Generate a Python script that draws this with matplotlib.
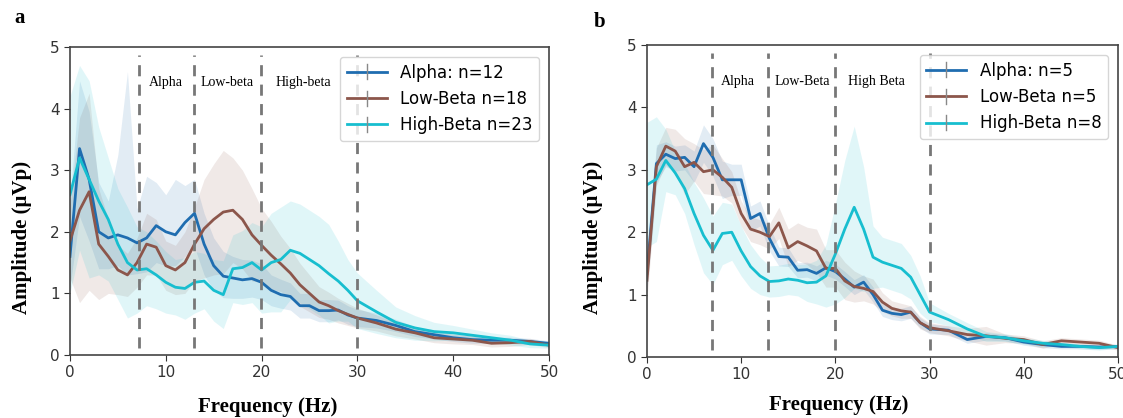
import matplotlib
matplotlib.use('Agg')
import matplotlib.pyplot as plt
from matplotlib.lines import Line2D
from matplotlib.legend_handler import HandlerLine2D

# frequency grid (Hz)
freq = list(range(0, 31)) + list(range(32, 51, 2))

# ---- panel a: mean amplitude ----
a_alpha = [1.6, 3.35, 2.85, 2.0, 1.9, 1.95, 1.9, 1.82, 1.9, 2.1, 2.0, 1.95, 2.15, 2.3, 1.8, 1.45, 1.28, 1.25, 1.22, 1.24,
           1.18, 1.05, 0.98, 0.95, 0.8, 0.8, 0.72, 0.72, 0.73, 0.65, 0.6,
           0.56, 0.48, 0.38, 0.33, 0.28, 0.25, 0.24, 0.24, 0.22, 0.19]
a_low = [1.85, 2.35, 2.65, 1.8, 1.6, 1.38, 1.3, 1.5, 1.8, 1.75, 1.45, 1.38, 1.5, 1.8, 2.05, 2.2, 2.32, 2.35, 2.2, 1.95,
         1.78, 1.62, 1.48, 1.33, 1.14, 1.0, 0.86, 0.8, 0.72, 0.66, 0.6,
         0.52, 0.42, 0.36, 0.28, 0.26, 0.24, 0.19, 0.2, 0.22, 0.16]
a_high = [2.6, 3.2, 2.85, 2.5, 2.2, 1.8, 1.5, 1.38, 1.4, 1.3, 1.18, 1.1, 1.08, 1.18, 1.2, 1.05, 0.98, 1.4, 1.42, 1.5,
          1.38, 1.5, 1.55, 1.7, 1.65, 1.55, 1.45, 1.32, 1.2, 1.05, 0.88,
          0.7, 0.53, 0.44, 0.38, 0.36, 0.32, 0.28, 0.24, 0.18, 0.16]
# spread above the mean (shaded band)
a_alpha_sd = [0.9, 1.1, 1.1, 0.8, 0.6, 1.3, 2.7, 0.55, 1.0, 0.7, 0.6, 0.9, 0.6, 0.55, 0.5, 0.45, 0.4, 0.35, 0.33, 0.3,
              0.3, 0.25, 0.25, 0.22, 0.2, 0.2, 0.18, 0.18, 0.16, 0.15, 0.14,
              0.12, 0.1, 0.08, 0.07, 0.06, 0.06, 0.05, 0.05, 0.05, 0.04]
# spread below the mean, alpha band is lopsided
a_alpha_sd_lo = [0.5, 1.1, 1.0, 0.6, 0.5, 0.5, 0.6, 0.5, 0.55, 0.6, 0.55, 0.5, 0.55, 0.55, 0.5, 0.4, 0.35, 0.33, 0.3, 0.3,
                 0.28, 0.25, 0.22, 0.22, 0.2, 0.2, 0.18, 0.18, 0.16, 0.15, 0.14,
                 0.12, 0.1, 0.08, 0.07, 0.06, 0.06, 0.05, 0.05, 0.05, 0.04]
a_low_sd = [0.6, 1.5, 1.6, 0.9, 0.6, 0.4, 0.35, 0.4, 0.5, 0.45, 0.4, 0.4, 0.5, 0.6, 0.8, 0.9, 1.0, 0.85, 0.8, 0.75,
            0.6, 0.55, 0.45, 0.4, 0.35, 0.3, 0.25, 0.22, 0.2, 0.18, 0.16,
            0.13, 0.11, 0.1, 0.08, 0.08, 0.07, 0.06, 0.06, 0.05, 0.04]
a_high_sd = [1.6, 1.5, 1.6, 1.2, 1.0, 0.9, 0.9, 0.7, 0.6, 0.55, 0.5, 0.45, 0.5, 0.5, 0.45, 0.5, 0.55, 0.55, 0.6, 0.65,
             0.7, 0.8, 0.85, 0.8, 0.8, 0.8, 0.8, 0.8, 0.65, 0.5, 0.45,
             0.35, 0.25, 0.2, 0.15, 0.12, 0.1, 0.08, 0.08, 0.06, 0.05]

# ---- panel b ----
b_alpha = [1.34, 3.1, 3.25, 3.18, 3.2, 3.05, 3.42, 3.2, 2.84, 2.84, 2.84, 2.22, 2.3, 1.9, 1.61, 1.6, 1.39, 1.4, 1.34, 1.43,
           1.37, 1.25, 1.12, 1.2, 1.0, 0.75, 0.7, 0.68, 0.72, 0.55, 0.45,
           0.43, 0.28, 0.33, 0.31, 0.24, 0.2, 0.17, 0.17, 0.16, 0.17]
b_low = [1.23, 3.05, 3.38, 3.3, 3.05, 3.12, 2.97, 3.0, 2.88, 2.72, 2.3, 2.05, 2.0, 1.93, 2.15, 1.75, 1.85, 1.78, 1.7, 1.42,
         1.42, 1.22, 1.13, 1.1, 1.05, 0.88, 0.78, 0.74, 0.72, 0.55, 0.47,
         0.42, 0.36, 0.34, 0.3, 0.28, 0.2, 0.26, 0.24, 0.22, 0.15]
b_high = [2.76, 2.85, 3.15, 2.95, 2.7, 2.3, 1.95, 1.71, 1.98, 2.0, 1.7, 1.45, 1.3, 1.21, 1.22, 1.25, 1.23, 1.19, 1.2, 1.3,
          1.65, 2.05, 2.4, 2.05, 1.6, 1.52, 1.47, 1.42, 1.28, 1.0, 0.72,
          0.6, 0.45, 0.33, 0.31, 0.26, 0.22, 0.2, 0.17, 0.15, 0.17]
b_alpha_sd = [0.3, 0.3, 0.2, 0.2, 0.2, 0.25, 0.3, 0.3, 0.3, 0.25, 0.25, 0.2, 0.2, 0.2, 0.15, 0.15, 0.12, 0.12, 0.12, 0.12,
              0.12, 0.12, 0.12, 0.12, 0.12, 0.1, 0.1, 0.1, 0.1, 0.08, 0.08,
              0.07, 0.06, 0.06, 0.05, 0.05, 0.05, 0.04, 0.04, 0.04, 0.04]
b_low_sd = [0.3, 0.3, 0.3, 0.35, 0.45, 0.3, 0.35, 0.4, 0.3, 0.25, 0.2, 0.2, 0.2, 0.2, 0.25, 0.3, 0.3, 0.3, 0.35, 0.3,
            0.3, 0.3, 0.25, 0.2, 0.2, 0.15, 0.12, 0.12, 0.1, 0.1, 0.08,
            0.08, 0.1, 0.15, 0.07, 0.06, 0.06, 0.05, 0.05, 0.05, 0.04]
b_high_sd = [1.0, 1.0, 0.5, 0.35, 0.4, 0.5, 0.6, 0.55, 0.5, 0.45, 0.4, 0.35, 0.3, 0.25, 0.25, 0.25, 0.25, 0.3, 0.35, 0.5,
             0.8, 1.1, 1.3, 1.0, 0.5, 0.4, 0.4, 0.4, 0.35, 0.3, 0.15,
             0.1, 0.1, 0.08, 0.06, 0.05, 0.05, 0.04, 0.04, 0.04, 0.03]

a_bounds = [7.2, 12.9, 19.9, 30]
b_bounds = [6.9, 12.8, 20, 30.1]
a_bands = ['Alpha', 'Low-beta', 'High-beta']
b_bands = ['Alpha', 'Low-Beta', 'High Beta']
a_band_x = [10, 16.4, 24.4]
b_band_x = [9.7, 16.5, 24.4]
a_names = ['Alpha: n=12', 'Low-Beta n=18', 'High-Beta n=23']
b_names = ['Alpha: n=5', 'Low-Beta n=5', 'High-Beta n=8']

colors = ['#1f6db0', '#8c564b', '#17becf']
serif = ['Liberation Serif', 'DejaVu Serif']


class HandlerTick(HandlerLine2D):
    # legend handle that looks like an errorbar entry
    def create_artists(self, legend, orig_handle, xdescent, ydescent, width, height, fontsize, trans):
        arts = super().create_artists(legend, orig_handle, xdescent, ydescent, width, height, fontsize, trans)
        xm = width / 2 - xdescent
        tick = Line2D([xm, xm], [-ydescent - 0.15 * height, height * 1.15 - ydescent],
                      color='#888888', lw=1)
        tick.set_transform(trans)
        return arts + [tick]


def draw(ax, means, sds_up, sds_lo, names, bounds, bands, band_x):
    for m, su, sl, c, n in zip(means, sds_up, sds_lo, colors, names):
        lo = [a - b for a, b in zip(m, sl)]
        hi = [a + b for a, b in zip(m, su)]
        ax.fill_between(freq, lo, hi, color=c, alpha=0.13, lw=0)
        ax.plot(freq, m, color=c, lw=2, label=n)
    ax.vlines(bounds, 0.12, 4.87, colors='#777777', linestyles=(0, (4, 3)), lw=2)
    for t, x in zip(bands, band_x):
        ax.text(x, 4.42, t, ha='center', va='center', fontsize=10, family=serif)
    ax.set_xlim(0, 50)
    ax.set_ylim(0, 5)
    ax.set_xticks([0, 10, 20, 30, 40, 50])
    ax.set_yticks([0, 1, 2, 3, 4, 5])
    ax.tick_params(labelsize=11, colors='#333333', length=4)
    for sp in ax.spines.values():
        sp.set_color('#444444')
        sp.set_linewidth(1.2)
    ax.legend(loc='upper right', fontsize=12, handlelength=2.4, borderaxespad=0.6,
              handler_map={Line2D: HandlerTick()})


fig = plt.figure(figsize=(11.23, 4.18), dpi=100)
ax1 = fig.add_axes([0.0623, 0.1507, 0.4266, 0.737])
ax2 = fig.add_axes([0.5761, 0.1459, 0.4194, 0.7464])

draw(ax1, [a_alpha, a_low, a_high], [a_alpha_sd, a_low_sd, a_high_sd], [a_alpha_sd_lo, a_low_sd, a_high_sd],
     a_names, a_bounds, a_bands, a_band_x)
draw(ax2, [b_alpha, b_low, b_high], [b_alpha_sd, b_low_sd, b_high_sd], [b_alpha_sd, b_low_sd, b_high_sd],
     b_names, b_bounds, b_bands, b_band_x)

# axis titles and panel letters
lab = dict(family=serif, fontweight='bold', fontsize=15)
fig.text(22 / 1123, 1 - 237 / 418, 'Amplitude (μVp)', rotation=90, ha='center', va='center', **lab)
fig.text(593 / 1123, 1 - 237 / 418, 'Amplitude (μVp)', rotation=90, ha='center', va='center', **lab)
fig.text(268 / 1123, 1 - 407 / 418, 'Frequency (Hz)', ha='center', va='center', **lab)
fig.text(839 / 1123, 1 - 405 / 418, 'Frequency (Hz)', ha='center', va='center', **lab)
fig.text(20 / 1123, 1 - 18 / 418, 'a', ha='center', va='center', **lab)
fig.text(600 / 1123, 1 - 22 / 418, 'b', ha='center', va='center', **lab)

fig.savefig('out.png', dpi=100)
